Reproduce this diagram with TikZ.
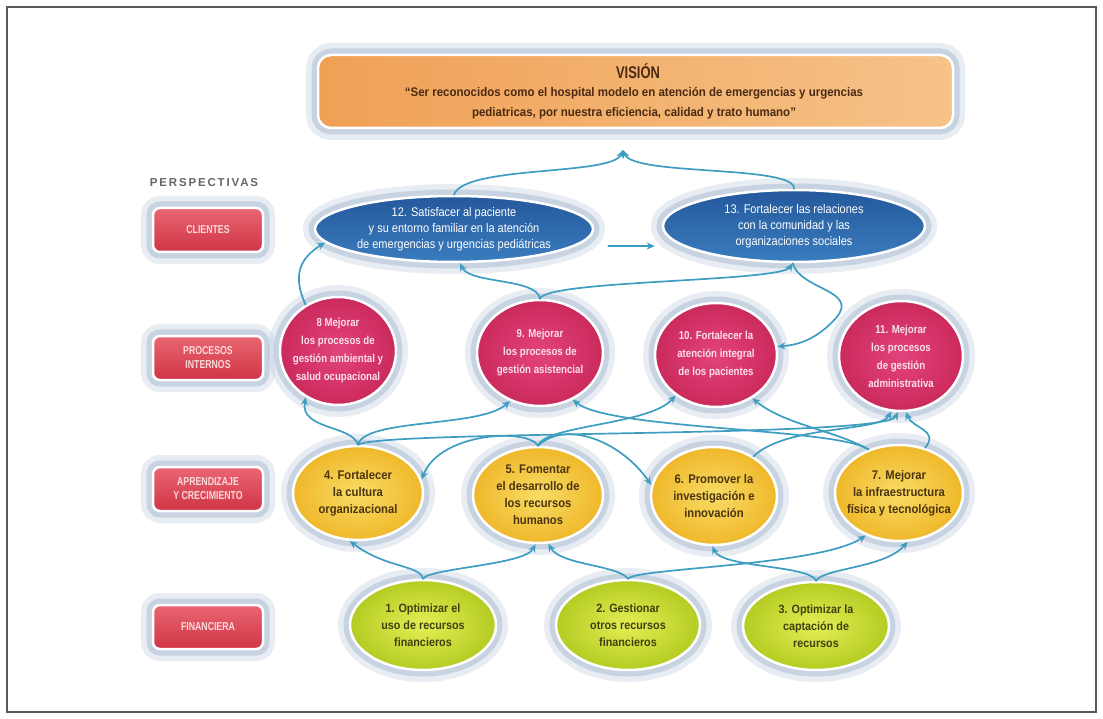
\documentclass[tikz,border=0pt]{standalone}
\usepackage{fontspec}
\setmainfont{Liberation Sans}
\newfontfamily\cond[FakeStretch=0.88]{Liberation Sans}
\newfontfamily\condb[FakeStretch=0.9]{Liberation Sans}
\newfontfamily\condp[FakeStretch=0.84]{Liberation Sans}
\newfontfamily\labf[FakeStretch=0.76]{Liberation Sans}
\newfontfamily\vfont[FakeStretch=0.92]{Liberation Sans}
\newfontfamily\spaced[LetterSpace=16]{Liberation Sans}
\usetikzlibrary{shapes.geometric,arrows.meta,calc}
\definecolor{connC}{HTML}{3E9EC2}
\definecolor{haloC}{HTML}{B4C3D8}
\definecolor{visL}{HTML}{F0A055}
\definecolor{visR}{HTML}{F6C389}
\definecolor{visT}{HTML}{4A2A12}
\definecolor{redT}{HTML}{EA6672}
\definecolor{redB}{HTML}{CF3445}
\definecolor{redTx}{HTML}{FBDADA}
\definecolor{bluT}{HTML}{24599C}
\definecolor{bluB}{HTML}{3A7CBE}
\definecolor{pinkI}{HTML}{E2437C}
\definecolor{pinkO}{HTML}{CB2A5C}
\definecolor{pinkTx}{HTML}{FBE0EA}
\definecolor{yelI}{HTML}{F8DC66}
\definecolor{yelO}{HTML}{F0B82A}
\definecolor{yelTx}{HTML}{4A3510}
\definecolor{grnI}{HTML}{E4EE55}
\definecolor{grnO}{HTML}{B4CC22}
\definecolor{grnTx}{HTML}{3E4210}
\tikzset{
  conn/.style={draw=connC, line width=1.7pt, line cap=round, -{Stealth[length=8pt,width=7pt]}},
  halo/.style={preaction={draw=haloC, line width=24pt, opacity=0.3},
               preaction={draw=haloC, line width=13pt, opacity=0.6},
               draw=white, line width=2.5pt},
  vbox/.style={rectangle, rounded corners=13pt, minimum width=635pt, minimum height=73pt,
               inner sep=0pt, left color=visL, right color=visR, halo},
  lab/.style={rectangle, rounded corners=7pt, minimum width=110pt, minimum height=44pt,
              inner sep=0pt, top color=redT, bottom color=redB, halo},
  labtext/.style={font=\labf\bfseries\fontsize{11.5}{14}\selectfont, text=redTx, align=center},
  blu/.style={ellipse, inner sep=0pt, top color=bluT, bottom color=bluB, halo},
  pink/.style={ellipse, inner sep=0pt, inner color=pinkI, outer color=pinkO, halo},
  yel/.style={ellipse, inner sep=0pt, inner color=yelI, outer color=yelO, halo},
  grn/.style={ellipse, inner sep=0pt, inner color=grnI, outer color=grnO, halo},
  blutext/.style={font=\cond\fontsize{12.5}{16}\selectfont, text=white, align=center},
  pinktext/.style={font=\condp\bfseries\fontsize{11.5}{18}\selectfont, text=pinkTx, align=center},
  yeltext/.style={font=\condb\bfseries\fontsize{12.5}{17}\selectfont, text=yelTx, align=center},
  grntext/.style={font=\condb\bfseries\fontsize{12}{17}\selectfont, text=grnTx, align=center},
}
\begin{document}
\begin{tikzpicture}[x=1pt,y=-1pt]
\useasboundingbox (0,0) rectangle (1103,719);
\fill[white] (0,0) rectangle (1103,719);
\draw[gray!70!black, line width=2pt] (7,7) rectangle (1096,712);

% vision
\node[vbox] (vis) at (635.5,91.5) {};
\node[font=\labf\bfseries\fontsize{17}{19}\selectfont, text=visT] (vtitle) at (638,71) {VISIÓN};
\node[font=\vfont\bfseries\fontsize{12.5}{20}\selectfont, text=visT, align=center] (vtext) at (634,103)
  {“Ser reconocidos como el hospital modelo en atención de emergencias y urgencias\\ pediatricas, por nuestra eficiencia, calidad y trato humano”};
\coordinate (vtip) at (623,150);

% perspectives
\node[font=\spaced\bfseries\fontsize{11.5}{13}\selectfont, text=black!60] (persp) at (204,183) {PERSPECTIVAS};
\node[lab] (lc) at (208,230) {};
\node[labtext] (lct) at (lc) {CLIENTES};
\node[lab] (lp) at (208,358) {};
\node[labtext] (lpt) at (lp) {PROCESOS\\INTERNOS};
\node[lab] (la) at (208,489) {};
\node[labtext] (lat) at (la) {APRENDIZAJE\\Y CRECIMIENTO};
\node[lab] (lf) at (208,627) {};
\node[labtext] (lft) at (lf) {FINANCIERA};

% clients
\node[blu, minimum width=278pt, minimum height=66pt] (n12) at (454,229) {};
\node[blutext] (t12) at (n12) {12. Satisfacer al paciente\\ y su entorno familiar en la atención\\ de emergencias y urgencias pediátricas};
\node[blu, minimum width=262pt, minimum height=72pt] (n13) at (794,226) {};
\node[blutext] (t13) at (n13) {13. Fortalecer las relaciones\\ con la comunidad y las\\ organizaciones sociales};

% processes
\node[pink, minimum width=116pt, minimum height=108pt] (n8) at (338,351) {};
\node[pinktext] (t8) at (n8) {8 Mejorar\\ los procesos de\\ gestión ambiental y\\ salud ocupacional};
\node[pink, minimum width=126pt, minimum height=106pt] (n9) at (540,353) {};
\node[pinktext] (t9) at (n9) {9. Mejorar\\ los procesos de\\ gestión asistencial};
\node[pink, minimum width=122pt, minimum height=104pt] (n10) at (716,355) {};
\node[pinktext] (t10) at (n10) {10. Fortalecer la\\ atención integral\\ de los pacientes};
\node[pink, minimum width=124pt, minimum height=110pt] (n11) at (901,356) {};
\node[pinktext] (t11) at (n11) {11. Mejorar\\ los procesos\\ de gestión\\ administrativa};

% learning
\node[yel, minimum width=130pt, minimum height=94pt] (n4) at (358,493) {};
\node[yeltext] (t4) at (n4) {4. Fortalecer\\ la cultura\\ organizacional};
\node[yel, minimum width=130pt, minimum height=96pt] (n5) at (538,495) {};
\node[yeltext] (t5) at (n5) {5. Fomentar\\ el desarrollo de\\ los recursos\\ humanos};
\node[yel, minimum width=126pt, minimum height=98pt] (n6) at (714,496) {};
\node[yeltext] (t6) at (n6) {6. Promover la\\ investigación e\\ innovación};
\node[yel, minimum width=128pt, minimum height=96pt] (n7) at (899,493) {};
\node[yeltext] (t7) at (n7) {7. Mejorar\\ la infraestructura\\ física y tecnológica};

% financial
\node[grn, minimum width=146pt, minimum height=90pt] (n1) at (423,625) {};
\node[grntext] (t1) at (n1) {1. Optimizar el\\ uso de recursos\\ financieros};
\node[grn, minimum width=144pt, minimum height=90pt] (n2) at (628,625) {};
\node[grntext] (t2) at (n2) {2. Gestionar\\ otros recursos\\ financieros};
\node[grn, minimum width=146pt, minimum height=88pt] (n3) at (816,626) {};
\node[grntext] (t3) at (n3) {3. Optimizar la\\ captación de\\ recursos};

% ---- connectors ----
% clients -> vision
\draw[conn] (n12.north) .. controls (464,165) and (612,176) .. (vtip);
\draw[conn] (n13.north) .. controls (796,165) and (634,176) .. (vtip);
% 12 -> 13
\draw[conn] ([xshift=14pt,yshift=-17pt]n12.east) -- ([xshift=-7pt,yshift=-20pt]n13.west);
% processes -> clients
\draw[conn] (n8.125) .. controls (292,275) and (300,258) .. (n12.186);
\draw[conn] (n9.north) .. controls (537,278) and (470,284) .. (n12.-80);
\draw[conn] (n9.north) .. controls (545,280) and (780,282) .. (n13.-92);
\draw[conn] (n13.-92) .. controls (800,290) and (860,290) .. (836,318) .. controls (818,338) and (800,345) .. (n10.8);
% learning -> processes
\draw[conn] (n4.north) .. controls (352,425) and (300,430) .. (n8.235);
\draw[conn] (n4.north) .. controls (365,418) and (480,428) .. (n9.238);
\draw[conn] (n4.north) .. controls (380,430) and (885,438) .. (n11.-93);
\draw[conn] (n5.north) .. controls (545,425) and (650,425) .. (n10.225);
\draw[conn] (n5.north) .. controls (528,428) and (440,432) .. (n4.12);
\draw[conn] (n5.north) .. controls (565,420) and (620,440) .. (n6.170);
\draw[conn] (n6.45) .. controls (785,425) and (880,432) .. (n11.-100);
\draw[conn] (n7.125) .. controls (838,428) and (610,430) .. (n9.-55);
\draw[conn] (n7.125) .. controls (834,430) and (785,425) .. (n10.-50);
\draw[conn] (n7.60) .. controls (940,430) and (912,428) .. (n11.-85);
% financial -> learning
\draw[conn] (n1.north) .. controls (420,565) and (385,568) .. (n4.-100);
\draw[conn] (n1.north) .. controls (430,568) and (525,565) .. (n5.-93);
\draw[conn] (n2.north) .. controls (618,565) and (560,565) .. (n5.-78);
\draw[conn] (n2.north) .. controls (635,568) and (820,566) .. (n7.-128);
\draw[conn] (n3.north) .. controls (810,565) and (722,568) .. (n6.-92);
\draw[conn] (n3.north) .. controls (824,568) and (885,568) .. (n7.-80);
\end{tikzpicture}
\end{document}
